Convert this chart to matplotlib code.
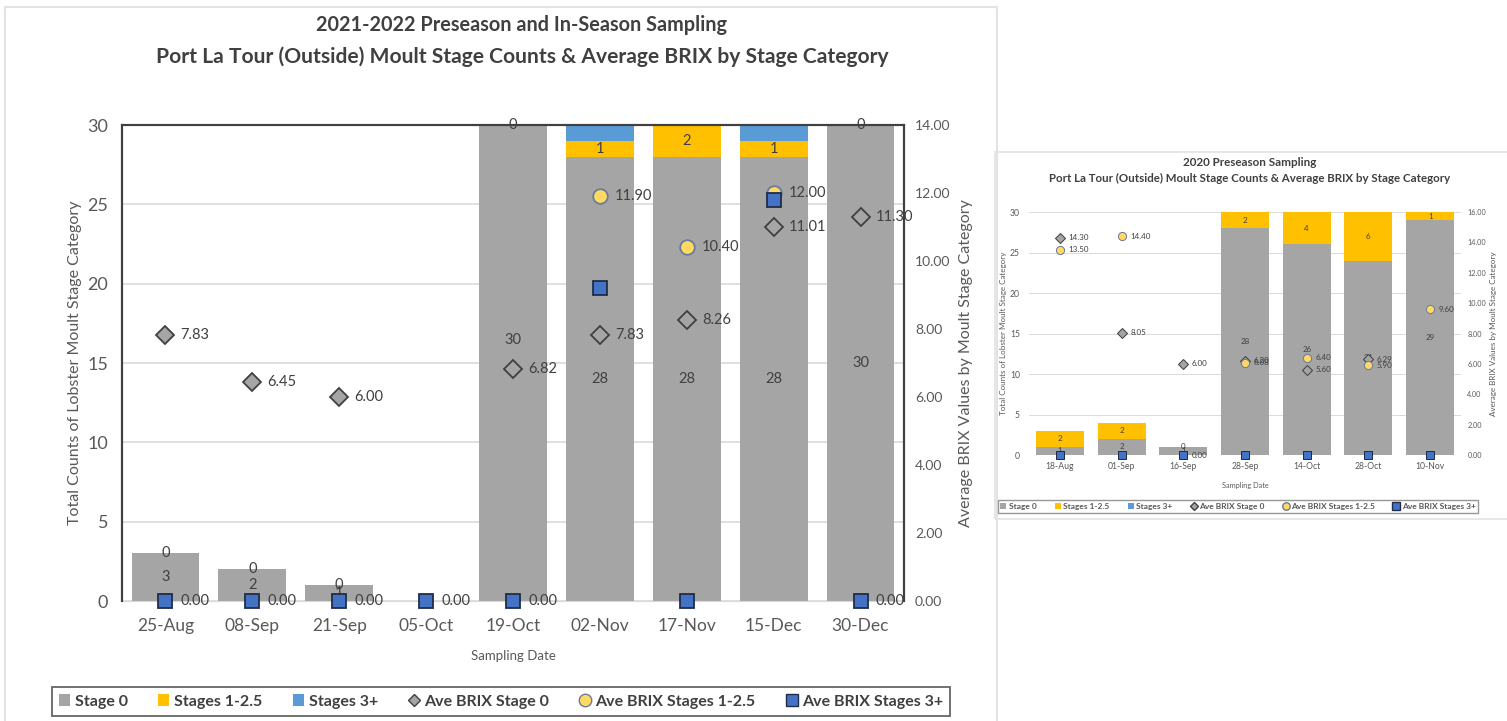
import numpy as np
import matplotlib.pyplot as plt
from matplotlib.lines import Line2D
from matplotlib.patches import Patch, Rectangle

plt.rcParams['font.family'] = ['Lato', 'DejaVu Sans']

# 2021-2022 sampling
dates_21 = ['25-Aug', '08-Sep', '21-Sep', '05-Oct', '19-Oct', '02-Nov', '17-Nov', '15-Dec', '30-Dec']
stage0_21 = [3, 2, 1, 0, 30, 28, 28, 28, 30]
stage12_21 = [0, 0, 0, 0, 0, 1, 2, 1, 0]
stage3_21 = [0, 0, 0, 0, 0, 1, 0, 1, 0]
brix0_21 = [7.83, 6.45, 6.00, np.nan, 6.82, 7.83, 8.26, 11.01, 11.30]
brix12_21 = [np.nan, np.nan, np.nan, np.nan, np.nan, 11.90, 10.40, 12.00, np.nan]
brix3_21 = [0.00, 0.00, 0.00, 0.00, 0.00, 9.20, 0.00, 11.80, 0.00]
brix3_shown_21 = [True, True, True, True, True, False, False, False, True]

# 2020 preseason sampling
dates_20 = ['18-Aug', '01-Sep', '16-Sep', '28-Sep', '14-Oct', '28-Oct', '10-Nov']
stage0_20 = [1, 2, 1, 28, 26, 24, 29]
stage12_20 = [2, 2, 0, 2, 4, 6, 1]
stage3_20 = [0, 0, 0, 0, 0, 0, 0]
brix0_20 = [14.30, 8.05, 6.00, 6.20, 5.60, 6.29, np.nan]
brix12_20 = [13.50, 14.40, np.nan, 6.08, 6.40, 5.90, 9.60]
brix3_20 = [0.00, 0.00, 0.00, 0.00, 0.00, 0.00, 0.00]
brix3_shown_20 = [False, False, True, False, False, False, False]

GRAY = '#a5a5a5'
YELLOW = '#ffc000'
BLUE = '#5b9bd5'
TXT = '#595959'
DARK = '#404040'

BIG = dict(sc=1.0, tick_l=13, tick_r=10, tick_x=12.5, pad_l=10, pad_r=8, pad_x=12, val=10.5)
SMALL = dict(sc=0.56, tick_l=6.2, tick_r=5.2, tick_x=6.2, pad_l=6.5, pad_r=4.5, pad_x=5, val=5.8)


def draw_chart(ax, dates, s0, s12, s3, b0, b12, b3, b3_shown, ymax2, st):
    sc = st['sc']
    x = np.arange(len(dates))
    s0 = np.array(s0)
    s12 = np.array(s12)
    w = 0.78
    bars0 = ax.bar(x, s0, w, color=GRAY, zorder=2)
    bars12 = ax.bar(x, s12, w, bottom=s0, color=YELLOW, zorder=2)
    ax.bar(x, s3, w, bottom=s0 + s12, color=BLUE, zorder=2)
    lab0 = ax.bar_label(bars0, label_type='center', fontsize=st['val'], color=DARK)
    ax.bar_label(bars12, label_type='center', fontsize=st['val'], color=DARK)

    ax.set_xlim(-0.5, len(dates) - 0.5)
    ax.set_ylim(0, 30)
    ax.set_yticks(range(0, 31, 5))
    ax.set_xticks(x)
    ax.set_xticklabels(dates)
    ax.grid(axis='y', color='#d9d9d9', linewidth=1.2 * sc, zorder=0)
    ax.set_axisbelow(True)
    ax.tick_params(axis='y', length=0, colors=TXT, labelsize=st['tick_l'], pad=st['pad_l'])
    ax.tick_params(axis='x', length=0, colors=TXT, labelsize=st['tick_x'], pad=st['pad_x'])

    ax2 = ax.twinx()
    ax2.set_ylim(0, ymax2)
    ticks2 = np.arange(0, ymax2 + 0.1, 2)
    ax2.set_yticks(ticks2)
    ax2.set_yticklabels([f'{v:.2f}' for v in ticks2])
    ax2.tick_params(length=0, colors=TXT, labelsize=st['tick_r'], pad=st['pad_r'])

    ms = 10.5 * sc
    ax2.plot(x, b0, ls='none', marker='D', ms=ms * 0.85, mfc=GRAY, mec=DARK, mew=1.3 * sc, clip_on=False, zorder=4)
    ax2.plot(x, b12, ls='none', marker='o', ms=ms, mfc='#ffd966', mec='#6b7b99', mew=1.3 * sc, clip_on=False, zorder=4)
    ax2.plot(x, b3, ls='none', marker='s', ms=ms, mfc='#4472c4', mec='#1f2d4a', mew=1.3 * sc, clip_on=False, zorder=5)

    def value_labels(vals, shown=None):
        for i, v in enumerate(vals):
            if np.isnan(v) or (shown is not None and not shown[i]):
                continue
            ax2.annotate(f'{v:.2f}', (x[i], v), xytext=(11 * sc, 0), textcoords='offset points',
                         ha='left', va='center', fontsize=st['val'], color=DARK, zorder=6,
                         annotation_clip=False)

    value_labels(b0)
    value_labels(b12)
    value_labels(b3, b3_shown)
    return ax2, lab0


fig = plt.figure(figsize=(15.07, 7.21), dpi=100)

# light frames around the two charts
fig.patches.append(Rectangle((5 / 1507, -0.01), 992 / 1507, 1 - 7 / 721 + 0.01, transform=fig.transFigure,
                             fill=False, edgecolor='#e3e3e3', linewidth=1.5))
fig.patches.append(Rectangle((995 / 1507, 1 - 519 / 721), 0.4, (519 - 152) / 721, transform=fig.transFigure,
                             fill=False, edgecolor='#e3e3e3', linewidth=1.2))

# main chart
ax = fig.add_axes([122 / 1507, 1 - 601 / 721, 782 / 1507, 476 / 721])
ax2, lab0 = draw_chart(ax, dates_21, stage0_21, stage12_21, stage3_21, brix0_21, brix12_21, brix3_21,
                       brix3_shown_21, 14, BIG)
lab0[4].set_y(16.9)
for side in ['left', 'top', 'right']:
    ax.spines[side].set_color(DARK)
    ax.spines[side].set_linewidth(1.5)
    ax2.spines[side].set_color(DARK)
    ax2.spines[side].set_linewidth(1.5)
ax.spines['bottom'].set_color('#d9d9d9')
ax2.spines['bottom'].set_visible(False)
ax.set_ylabel('Total Counts of Lobster Moult Stage Category', fontsize=11.5, color=TXT, labelpad=4)
ax2.set_ylabel('Average BRIX Values by Moult Stage Category', fontsize=11.5, color=TXT, labelpad=6)
ax.set_xlabel('Sampling Date', fontsize=9.5, color=TXT, labelpad=12)
fig.text(521 / 1507, 1 - 25 / 721, '2021-2022 Preseason and In-Season Sampling', ha='center', va='center',
         fontsize=14.3, fontweight='bold', color=DARK)
fig.text(522 / 1507, 1 - 57 / 721,
         'Port La Tour (Outside) Moult Stage Counts & Average BRIX by Stage Category',
         ha='center', va='center', fontsize=15.1, fontweight='bold', color=DARK)


def legend_handles(sc):
    ms = 9 * sc
    return [
        Patch(facecolor=GRAY, label='Stage 0'),
        Patch(facecolor=YELLOW, label='Stages 1-2.5'),
        Patch(facecolor=BLUE, label='Stages 3+'),
        Line2D([], [], ls='none', marker='D', ms=ms * 0.7, mfc=GRAY, mec=DARK, label='Ave BRIX Stage 0'),
        Line2D([], [], ls='none', marker='o', ms=ms, mfc='#ffd966', mec='#6b7b99', label='Ave BRIX Stages 1-2.5'),
        Line2D([], [], ls='none', marker='s', ms=ms, mfc='#4472c4', mec='#1f2d4a', label='Ave BRIX Stages 3+'),
    ]


leg = fig.legend(handles=legend_handles(1.0), loc='center', bbox_to_anchor=(501 / 1507, 1 - 701.5 / 721),
                 ncol=6, frameon=True, fancybox=False, handlelength=0.7, handleheight=0.7,
                 handletextpad=0.3, columnspacing=1.9, borderpad=0.45, prop={'weight': 'bold', 'size': 11.5})
leg.get_frame().set_edgecolor(DARK)
leg.get_frame().set_linewidth(1.3)
for t in leg.get_texts():
    t.set_color(DARK)

# 2020 chart
bx = fig.add_axes([1029 / 1507, 1 - 455 / 721, 432 / 1507, 243 / 721])
bx2, _ = draw_chart(bx, dates_20, stage0_20, stage12_20, stage3_20, brix0_20, brix12_20, brix3_20,
                    brix3_shown_20, 16, SMALL)
for a in (bx, bx2):
    for side in a.spines:
        a.spines[side].set_visible(False)
bx.set_ylabel('Total Counts of Lobster Moult Stage Category', fontsize=5.8, color=TXT, labelpad=2)
bx2.set_ylabel('Average BRIX Values by Moult Stage Category', fontsize=5.8, color=TXT, labelpad=3)
bx.set_xlabel('Sampling Date', fontsize=5.3, color=TXT, labelpad=8)
fig.text(1250 / 1507, 1 - 163 / 721, '2020 Preseason Sampling', ha='center', va='center',
         fontsize=8.4, fontweight='bold', color=DARK)
fig.text(1250 / 1507, 1 - 178 / 721,
         'Port La Tour (Outside) Moult Stage Counts & Average BRIX by Stage Category',
         ha='center', va='center', fontsize=8.3, fontweight='bold', color=DARK)
leg2 = fig.legend(handles=legend_handles(0.6), loc='center', bbox_to_anchor=(1238 / 1507, 1 - 506.5 / 721),
                  ncol=6, frameon=True, fancybox=False, handlelength=0.7, handleheight=0.7,
                  handletextpad=0.3, columnspacing=2.2, borderpad=0.35, prop={'weight': 'bold', 'size': 6})
leg2.get_frame().set_edgecolor('#7f7f7f')
leg2.get_frame().set_linewidth(1.0)
for t in leg2.get_texts():
    t.set_color(TXT)

fig.savefig('out.png', dpi=100)
